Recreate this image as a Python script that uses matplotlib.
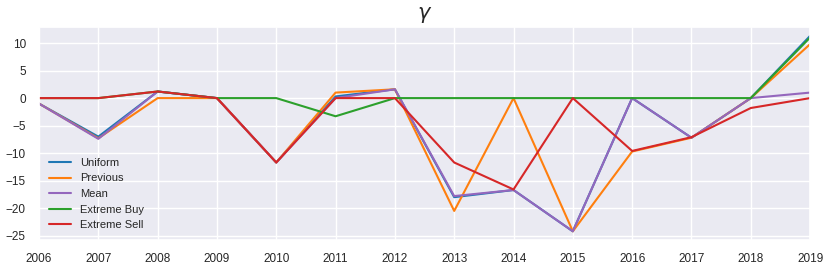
import matplotlib
matplotlib.use("Agg")
import matplotlib.pyplot as plt
import seaborn as sns

sns.set_theme(style="darkgrid", palette="tab10")
plt.rcParams["font.family"] = ["Liberation Sans", "DejaVu Sans"]

years = list(range(2006, 2020))

# gamma per strategy
uniform      = [-1, -7.0, 1.2, 0, -11.7, 0.3, 1.6, -18.0, -16.7, -24.2, 0, -7.2, 0, 11.3]
previous     = [-1, -7.3, 0, 0, -11.7, 1.0, 1.6, -20.5, 0, -24.2, -9.7, -7.2, 0, 9.8]
mean         = [-1, -7.4, 1.2, 0, -11.7, 0.0, 1.6, -17.8, -16.7, -24.2, 0, -7.2, 0, 1.0]
extreme_buy  = [0, 0, 1.2, 0, 0, -3.3, 0, 0, 0, 0, 0, 0, 0, 11.0]
extreme_sell = [0, 0, 1.2, 0, -11.7, 0, 0, -11.7, -16.6, 0, -9.6, -7.1, -1.8, 0]

fig, ax = plt.subplots(figsize=(8.3, 2.71), dpi=100)
ax.plot(years, uniform, color="tab:blue", label="Uniform")
ax.plot(years, previous, color="tab:orange", label="Previous")
ax.plot(years, mean, color="tab:purple", label="Mean")
ax.plot(years, extreme_buy, color="tab:green", label="Extreme Buy")
ax.plot(years, extreme_sell, color="tab:red", label="Extreme Sell")

ax.set_xlim(2006, 2019)
ax.set_ylim(-25.8, 12.9)
ax.set_xticks(years)
ax.set_yticks([10, 5, 0, -5, -10, -15, -20, -25])
ax.tick_params(labelsize=8.5)
ax.set_title(r"$\gamma$", fontsize=15)
ax.legend(loc="lower left", frameon=False, fontsize=8)

fig.subplots_adjust(left=0.047, right=0.976, top=0.90, bottom=0.114)
fig.savefig("out.png")
